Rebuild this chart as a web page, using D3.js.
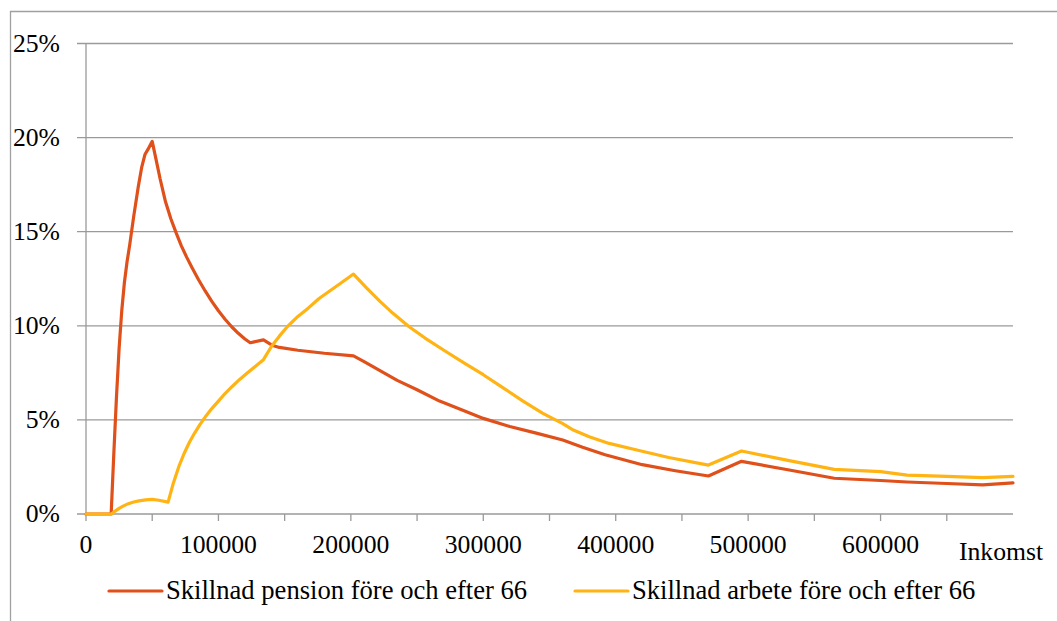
<!DOCTYPE html>
<html>
<head>
<meta charset="utf-8">
<script src="https://cdn.jsdelivr.net/npm/d3@7"></script>
<style>
  html, body { margin: 0; padding: 0; background: #fff; }
  svg { display: block; }
</style>
</head>
<body>
<svg id="chart" width="1057" height="621"></svg>
<script>
// Skillnad pension före och efter 66 — income (kr) and difference (%)
const pensionIncome = [0, 19000, 21000, 23000, 25000, 27000, 29000, 31000, 33000, 36000, 39500, 42000, 44500, 47000, 50000, 53000, 56000, 60000, 64000, 68000, 72000, 76000, 80000, 85000, 90000, 95000, 100000, 105000, 110000, 115000, 120000, 124000, 134000, 141000, 146000, 160000, 180000, 202000, 210000, 220000, 235000, 250000, 267000, 285000, 300000, 320000, 340000, 360000, 375000, 392000, 420000, 445000, 470000, 495000, 530000, 565000, 600000, 620000, 650000, 677000, 700000];
const pensionValues = [0, 0, 3.2, 6.2, 8.8, 10.8, 12.3, 13.4, 14.3, 15.8, 17.4, 18.4, 19.1, 19.4, 19.8, 18.8, 17.8, 16.6, 15.7, 14.95, 14.25, 13.65, 13.1, 12.45, 11.85, 11.3, 10.8, 10.35, 9.95, 9.6, 9.3, 9.1, 9.25, 8.95, 8.85, 8.7, 8.54, 8.4, 8.1, 7.7, 7.1, 6.6, 6.0, 5.5, 5.08, 4.65, 4.3, 3.93, 3.55, 3.15, 2.62, 2.3, 2.02, 2.8, 2.35, 1.9, 1.78, 1.7, 1.62, 1.55, 1.65];

// Skillnad arbete före och efter 66 — income (kr) and difference (%)
const arbeteIncome = [0, 19000, 22000, 25000, 28000, 32000, 36000, 40000, 45000, 50000, 55000, 62000, 66000, 70000, 74000, 78000, 82000, 86000, 90000, 95000, 100000, 105000, 110000, 116000, 122000, 128000, 134000, 140000, 146000, 152000, 160000, 168000, 176000, 184000, 192000, 202000, 212000, 222000, 232000, 244000, 256000, 272000, 286000, 300000, 315000, 330000, 345000, 360000, 368000, 380000, 395000, 416000, 440000, 470000, 495000, 530000, 565000, 600000, 620000, 650000, 677000, 700000];
const arbeteValues = [0, 0, 0.15, 0.3, 0.42, 0.55, 0.64, 0.7, 0.75, 0.78, 0.73, 0.63, 1.65, 2.5, 3.2, 3.8, 4.3, 4.75, 5.15, 5.6, 6.0, 6.4, 6.75, 7.15, 7.5, 7.85, 8.2, 8.9, 9.45, 9.95, 10.5, 10.95, 11.45, 11.85, 12.25, 12.75, 12.0, 11.3, 10.65, 9.95, 9.35, 8.62, 8.0, 7.4, 6.7, 6.0, 5.35, 4.8, 4.46, 4.1, 3.75, 3.4, 3.0, 2.6, 3.35, 2.85, 2.37, 2.25, 2.07, 2.0, 1.93, 2.0];

const seriesNames = ["Skillnad pension före och efter 66", "Skillnad arbete före och efter 66"];
const seriesColors = ["#E0501A", "#FFB414"];
const yTicks = [0, 5, 10, 15, 20, 25];
const xMajorTicks = [0, 100000, 200000, 300000, 400000, 500000, 600000];
const xMinorTicks = d3.range(0, 700000, 50000);
const xAxisTitle = "Inkomst";

const FONT_FAMILY = "'Liberation Serif', 'Times New Roman', Times, 'DejaVu Serif', serif";
const AXIS_FONT = 25.7;
const LEGEND_FONT = 26.6;

const svg = d3.select("#chart")
  .attr("font-family", FONT_FAMILY)
  .style("font-family", FONT_FAMILY);

// outer frame
svg.append("path")
  .attr("d", "M10.5,625 L10.5,11.5 L1060,11.5")
  .attr("fill", "none").attr("stroke", "#a0a0a0").attr("stroke-width", 1.3);

const x = d3.scaleLinear().domain([0, 700000]).range([86, 1013]);
const y = d3.scaleLinear().domain([0, 25]).range([514, 43.5]);

// gridlines
svg.append("g").selectAll("line").data(yTicks.filter(d => d > 0)).join("line")
  .attr("x1", 77).attr("x2", x(700000))
  .attr("y1", d => y(d)).attr("y2", d => y(d))
  .attr("stroke", "#9a9a9a").attr("stroke-width", 1.3);

// y axis line
svg.append("line").attr("x1", x(0)).attr("x2", x(0)).attr("y1", y(25)).attr("y2", y(0))
  .attr("stroke", "#9a9a9a").attr("stroke-width", 1.3);
// x axis line
svg.append("line").attr("x1", 77).attr("x2", x(700000)).attr("y1", y(0)).attr("y2", y(0))
  .attr("stroke", "#9a9a9a").attr("stroke-width", 1.3);
// x ticks
svg.append("g").selectAll("line").data(xMinorTicks).join("line")
  .attr("x1", d => x(d)).attr("x2", d => x(d))
  .attr("y1", y(0)).attr("y2", y(0) + 7)
  .attr("stroke", "#9a9a9a").attr("stroke-width", 1.3);

function txt(sel, size) {
  return sel.attr("font-family", FONT_FAMILY).style("font-family", FONT_FAMILY)
    .attr("font-size", size).attr("fill", "#000");
}

// y labels
txt(svg.append("g").selectAll("text").data(yTicks).join("text")
  .attr("x", 60).attr("y", d => y(d)).attr("dy", "0.33em")
  .attr("text-anchor", "end"), AXIS_FONT)
  .text(d => d + "%");

// x labels
txt(svg.append("g").selectAll("text").data(xMajorTicks).join("text")
  .attr("x", d => x(d)).attr("y", 553)
  .attr("text-anchor", "middle"), AXIS_FONT)
  .text(d => d3.format("d")(d));

txt(svg.append("text").attr("x", 1001).attr("y", 560)
  .attr("text-anchor", "middle"), AXIS_FONT)
  .text(xAxisTitle);

// lines
const line = d3.line().x(d => x(d[0])).y(d => y(d[1]));
const series = [
  { inc: pensionIncome, vals: pensionValues },
  { inc: arbeteIncome, vals: arbeteValues }
];
series.forEach((s, i) => {
  svg.append("path")
    .datum(s.inc.map((inc, k) => [inc, s.vals[k]]))
    .attr("d", line)
    .attr("fill", "none")
    .attr("stroke", seriesColors[i])
    .attr("stroke-width", 3.2)
    .attr("stroke-linejoin", "round")
    .attr("stroke-linecap", "round");
});

// legend
const legendX = [109, 575];
seriesNames.forEach((name, i) => {
  const g = svg.append("g");
  g.append("line").attr("x1", legendX[i]).attr("x2", legendX[i] + 53)
    .attr("y1", 591).attr("y2", 591)
    .attr("stroke", seriesColors[i]).attr("stroke-width", 3.2).attr("stroke-linecap", "round");
  txt(g.append("text").attr("x", legendX[i] + 57).attr("y", 599), LEGEND_FONT).text(name);
});
</script>
</body>
</html>
